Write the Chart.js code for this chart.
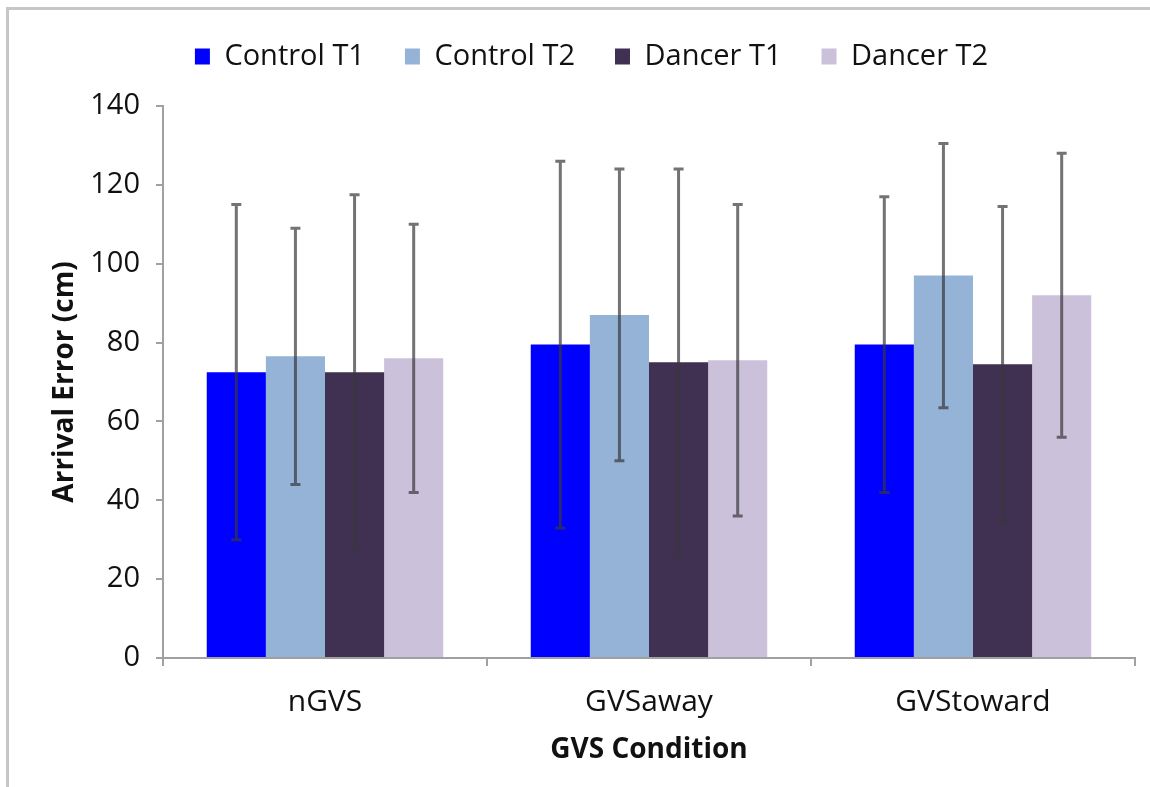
<!DOCTYPE html>
<html>
<head>
<meta charset="utf-8">
<script src="https://cdn.jsdelivr.net/npm/chart.js@4.4.1/dist/chart.umd.min.js"></script>
<style>
  html, body { margin: 0; padding: 0; background: #fff; }
  #wrap { position: relative; width: 1150px; height: 787px; }
  #frame {
    position: absolute; left: 6px; top: 7px; right: 0; bottom: 0;
    border-top: 3px solid #c6c6c6; border-left: 3px solid #c6c6c6;
    pointer-events: none;
  }
</style>
</head>
<body>
<div id="wrap">
  <canvas id="chart" width="1150" height="787"></canvas>
  <div id="frame"></div>
</div>
<script>
const categories = ["nGVS", "GVSaway", "GVStoward"];
const yTicks = [0, 20, 40, 60, 80, 100, 120, 140];

// mean arrival error (cm)
const controlT1 = [72.5, 79.5, 79.5];
const controlT2 = [76.5, 87, 97];
const dancerT1 = [72.5, 75, 74.5];
const dancerT2 = [76, 75.5, 92];

// +/- error bar size
const controlT1Err = [42.5, 46.5, 37.5];
const controlT2Err = [32.5, 37, 33.5];
const dancerT1Err = [45, 49, 40];
const dancerT2Err = [34, 39.5, 36];

const FONT = "'Open Sans', sans-serif";
Chart.defaults.font.family = FONT;
Chart.defaults.color = "#111";

const errorBars = {
  id: "errorBars",
  afterDatasetsDraw(chart) {
    const ctx = chart.ctx;
    const yScale = chart.scales.y;
    chart.data.datasets.forEach((ds, i) => {
      const meta = chart.getDatasetMeta(i);
      meta.data.forEach((bar, j) => {
        const mean = ds.data[j];
        const err = ds.errors[j];
        const top = yScale.getPixelForValue(mean + err);
        const bottom = yScale.getPixelForValue(mean - err);
        const x = bar.x;
        ctx.save();
        ctx.strokeStyle = "rgba(55, 55, 60, 0.7)";
        ctx.lineWidth = 3;
        ctx.beginPath();
        ctx.moveTo(x, top);
        ctx.lineTo(x, bottom);
        ctx.moveTo(x - 5, top);
        ctx.lineTo(x + 5, top);
        ctx.moveTo(x - 5, bottom);
        ctx.lineTo(x + 5, bottom);
        ctx.stroke();
        ctx.restore();
      });
    });
  },
};

// fixed legend band height so the plot top lands where the original has it,
// and the legend row sits a little right of centre like the original
const legendBand = {
  id: "legendBand",
  afterInit(chart) {
    const legend = chart.legend;
    const fit = legend.fit;
    const draw = legend.draw;
    legend.fit = function () {
      fit.call(this);
      this.height = 104;
    };
    legend.draw = function () {
      this.ctx.save();
      this.ctx.translate(24, 0);
      draw.call(this);
      this.ctx.restore();
    };
  },
};

const ctx = document.getElementById("chart").getContext("2d");
new Chart(ctx, {
  type: "bar",
  data: {
    labels: categories,
    datasets: [
      { label: "Control T1", data: controlT1, errors: controlT1Err, backgroundColor: "#0000ff" },
      { label: "Control T2", data: controlT2, errors: controlT2Err, backgroundColor: "#95b3d7" },
      { label: "Dancer T1", data: dancerT1, errors: dancerT1Err, backgroundColor: "#403152" },
      { label: "Dancer T2", data: dancerT2, errors: dancerT2Err, backgroundColor: "#ccc1da" },
    ],
  },
  options: {
    responsive: false,
    animation: false,
    devicePixelRatio: 1,
    categoryPercentage: 0.73,
    barPercentage: 1,
    layout: { padding: { top: 2, right: 15, bottom: 0, left: 0 } },
    plugins: {
      tooltip: { enabled: false },
      legend: {
        position: "top",
        labels: {
          boxWidth: 15,
          boxHeight: 16,
          padding: 40,
          color: "#111",
          font: { size: 29 },
        },
      },
    },
    scales: {
      x: {
        grid: {
          offset: true,
          drawOnChartArea: false,
          drawTicks: true,
          tickLength: 8,
          color: "#a0a0a0",
          lineWidth: 2,
        },
        border: { color: "#a0a0a0", width: 2 },
        ticks: { font: { size: 30 }, color: "#111", padding: 18 },
        title: {
          display: true,
          text: "GVS Condition",
          color: "#111",
          font: { size: 28, weight: "bold" },
          padding: { top: 0, bottom: 20 },
        },
        afterFit: (s) => {
          s.height = 129;
        },
      },
      y: {
        min: 0,
        max: 140,
        afterBuildTicks: (s) => {
          s.ticks = yTicks.map((v) => ({ value: v }));
        },
        grid: {
          drawOnChartArea: false,
          drawTicks: true,
          tickLength: 7,
          color: "#a0a0a0",
          lineWidth: 2,
        },
        border: { color: "#a0a0a0", width: 2 },
        ticks: { font: { size: 29 }, color: "#111", padding: 16 },
        title: {
          display: true,
          text: "Arrival Error (cm)",
          color: "#111",
          font: { size: 28, weight: "bold" },
          padding: { top: 48, bottom: 0 },
        },
        afterFit: (s) => {
          s.width = 163;
        },
      },
    },
  },
  plugins: [errorBars, legendBand],
});
</script>
</body>
</html>
